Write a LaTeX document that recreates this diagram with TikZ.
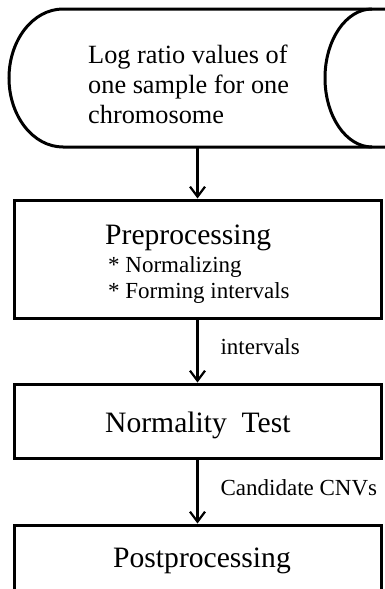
\documentclass[tikz,border=0pt]{standalone}
\usepackage{fontspec}
\setmainfont{Liberation Serif}
\usetikzlibrary{arrows.meta}
\begin{document}
\begin{tikzpicture}[x=1pt,y=-1pt,
  boxstyle/.style={draw, line width=3pt, minimum width=367pt, inner sep=0pt},
  arr/.style={line width=2.2pt, -{Straight Barb[length=10pt,width=15pt,line width=2.2pt]}},
  titlefont/.style={font=\fontsize{29.6}{34}\selectfont, inner sep=0pt, anchor=base west},
  subfont/.style={font=\fontsize{23}{27}\selectfont, inner sep=0pt, anchor=base west},
  topfont/.style={font=\fontsize{26.3}{30}\selectfont, inner sep=0pt, anchor=base west}
]
\clip (0,0) rectangle (385,589);
\fill[white] (0,0) rectangle (385,589);
% input (stored data) shape
\node[inner sep=0pt, minimum width=367pt, minimum height=138pt] (input) at (197.5,78) {};
\draw[line width=3pt] (390,9) -- (63,9) arc[start angle=270, end angle=90, x radius=54, y radius=69] -- (390,147);
\draw[line width=3pt] (372,9) arc[start angle=270, end angle=90, x radius=47, y radius=69];
\node[topfont] (l1) at (88,63) {Log ratio values of};
\node[topfont] (l2) at (88,93) {one sample for one};
\node[topfont] (l3) at (88,123) {chromosome};
% boxes
\node[boxstyle, minimum height=118pt] (pre) at (197.5,259) {};
\node[boxstyle, minimum height=74pt] (norm) at (197.5,421) {};
\node[boxstyle, minimum height=100pt] (post) at (197.5,575) {};
\node[titlefont] (pret) at (105,244) {Preprocessing};
\node[subfont] (pre1) at (108,272) {* Normalizing};
\node[subfont] (pre2) at (108,298) {* Forming intervals};
\node[titlefont] (normt) at (105,432) {Normality\ \ Test};
\node[titlefont] (postt) at (113,567) {Postprocessing};
% connectors
\draw[arr] (input.south) -- (pre.north);
\draw[arr] (pre.south) -- node[subfont, anchor=west, xshift=22pt, yshift=4pt] (lab1) {intervals} (norm.north);
\draw[arr] (norm.south) -- node[subfont, anchor=west, xshift=22pt, yshift=4pt] (lab2) {Candidate CNVs} (post.north);
\end{tikzpicture}
\end{document}
